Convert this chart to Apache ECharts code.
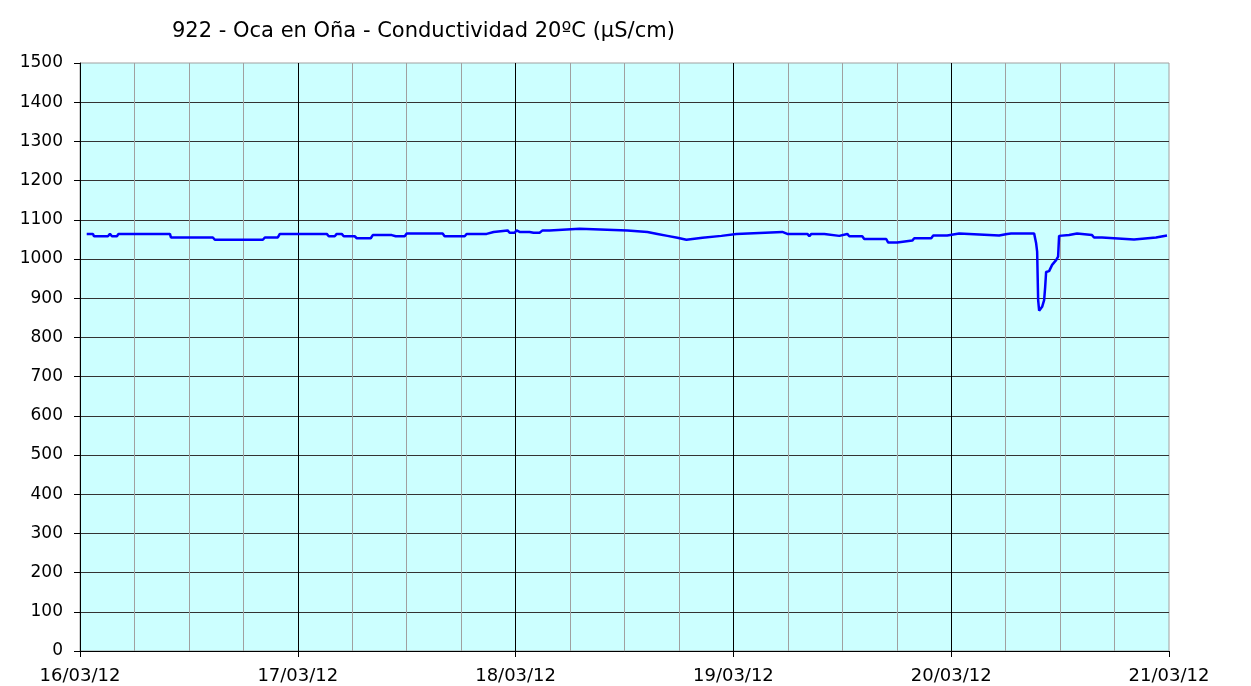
<!DOCTYPE html>
<html>
<head>
<meta charset="utf-8">
<script src="https://cdn.jsdelivr.net/npm/echarts@6/dist/echarts.min.js"></script>
<style>html,body{margin:0;padding:0;background:#fff;}#chart{width:1251px;height:686px;}</style>
</head>
<body>
<div id="chart"></div>
<script>
const chartTitle = '922 - Oca en Oña - Conductividad 20ºC (µS/cm)';
const dayLabels = ['16/03/12', '17/03/12', '18/03/12', '19/03/12', '20/03/12', '21/03/12'];
// hours since 16/03/12 00:00
const timeHours = [
  0.74, 1.43, 1.54, 3.08, 3.30, 3.52, 4.07, 4.24, 9.91, 10.02, 14.64, 14.86, 20.15, 20.37, 21.80, 22.02,
  23.78, 24.00, 24.44, 27.19, 27.41, 28.07, 28.29, 28.84, 29.06, 30.27, 30.50, 32.04, 32.26, 34.35, 34.51, 34.79,
  35.78, 36.00, 38.53, 39.96, 40.18, 42.39, 42.60, 44.81, 45.03, 45.58, 45.80, 47.12, 47.34, 47.89, 48.11, 48.44,
  49.54, 49.76, 49.98, 50.64, 50.97, 51.74, 51.96, 55.05, 55.27, 60.33, 60.55, 62.53, 62.75, 63.63, 63.85, 64.73,
  64.95, 65.83, 66.05, 66.82, 67.04, 68.59, 68.81, 70.68, 70.90, 72.33, 72.55, 77.39, 77.61, 77.94, 78.16, 78.38,
  80.15, 80.37, 80.59, 82.02, 82.24, 83.67, 83.89, 84.55, 84.77, 86.20, 86.42, 88.84, 89.06, 90.05, 90.27, 91.71,
  91.93, 93.80, 94.02, 95.56, 95.78, 96.88, 97.10, 101.28, 101.50, 102.16, 102.38, 102.60, 105.14, 105.36, 105.47, 105.58,
  105.69, 105.91, 106.02, 106.24, 106.35, 106.46, 106.79, 107.12, 107.56, 107.78, 107.89, 108.11, 108.99, 109.21, 109.87, 110.09,
  111.52, 111.74, 112.62, 112.84, 116.15, 116.37, 118.57, 118.79, 119.78
];
const conductivity = [
  1064, 1064, 1058, 1058, 1064, 1058, 1058, 1064, 1064, 1055, 1055, 1049, 1049, 1055, 1055, 1064,
  1064, 1068, 1064, 1064, 1058, 1058, 1064, 1064, 1058, 1058, 1053, 1053, 1061, 1061, 1065, 1058,
  1058, 1065, 1065, 1065, 1058, 1058, 1064, 1064, 1069, 1069, 1073, 1073, 1067, 1067, 1073, 1069,
  1069, 1073, 1067, 1067, 1073, 1073, 1077, 1077, 1073, 1073, 1069, 1069, 1064, 1064, 1059, 1059,
  1054, 1054, 1049, 1049, 1054, 1054, 1059, 1059, 1064, 1064, 1069, 1069, 1064, 1064, 1069, 1064,
  1064, 1058, 1064, 1064, 1059, 1059, 1064, 1064, 1058, 1058, 1051, 1051, 1042, 1042, 1047, 1047,
  1053, 1053, 1060, 1060, 1065, 1065, 1060, 1060, 1064, 1064, 1069, 1065, 1065, 1040, 1019, 896,
  868, 868, 878, 895, 927, 967, 969, 985, 997, 1006, 1059, 1061, 1061, 1065, 1065, 1061,
  1061, 1055, 1055, 1050, 1050, 1055, 1055, 1060, 1060
];

const chart = echarts.init(document.getElementById('chart'), null, {renderer: 'canvas'});
const font = 'DejaVu Sans';
chart.setOption({
  animation: false,
  backgroundColor: '#ffffff',
  title: {
    text: chartTitle,
    left: 167, top: 16,
    textStyle: {fontFamily: font, fontSize: 21, fontWeight: 'normal', color: '#000'}
  },
  grid: {
    left: 80, top: 63, width: 1089, height: 588,
    show: true, backgroundColor: '#ccffff', borderColor: '#a0a0a0', borderWidth: 1
  },
  xAxis: [
    {
      type: 'value', min: 0, max: 120, interval: 6,
      axisLine: {show: false}, axisTick: {show: false}, axisLabel: {show: false},
      splitLine: {show: true, showMinLine: false, showMaxLine: false, lineStyle: {color: '#a0a0a0', width: 1}}
    },
    {
      type: 'value', min: 0, max: 120, interval: 24, position: 'bottom',
      axisLine: {show: true, lineStyle: {color: '#000', width: 1}},
      axisTick: {show: true, length: 6, lineStyle: {color: '#000'}},
      axisLabel: {
        color: '#000', fontFamily: font, fontSize: 18, margin: 16,
        formatter: function (v) { return dayLabels[Math.round(v / 24)]; }
      },
      splitLine: {show: true, showMinLine: false, showMaxLine: false, lineStyle: {color: '#000', width: 1}}
    }
  ],
  yAxis: {
    type: 'value', min: 0, max: 1500, interval: 100,
    axisLine: {show: true, lineStyle: {color: '#000', width: 1}},
    axisTick: {show: true, length: 6, lineStyle: {color: '#000'}},
    axisLabel: {color: '#000', fontFamily: font, fontSize: 17, margin: 17,
      formatter: function (v) { return String(v); }},
    splitLine: {show: true, showMaxLine: false, lineStyle: {color: '#333', width: 1}}
  },
  series: [{
    type: 'line',
    xAxisIndex: 1,
    showSymbol: false,
    symbol: 'none',
    data: timeHours.map(function (h, i) { return [h, conductivity[i]]; }),
    lineStyle: {color: '#0000ff', width: 2.5},
    z: 5
  }]
});
</script>
</body>
</html>
